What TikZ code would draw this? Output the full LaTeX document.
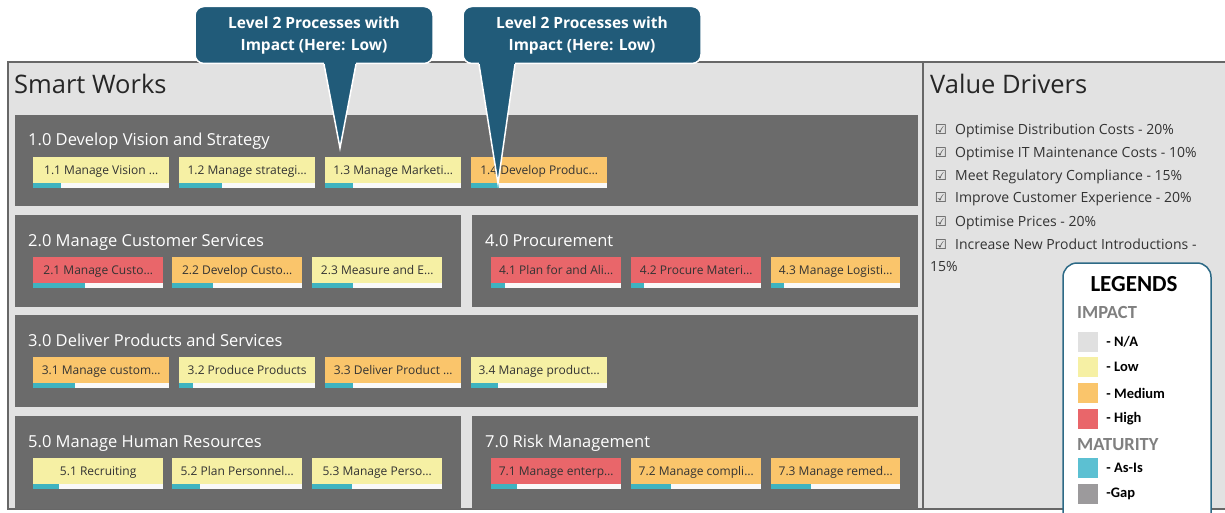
\documentclass[tikz,border=0pt]{standalone}
\usepackage{fontspec}
\setmainfont{Open Sans}
\newfontfamily\symfont{DejaVu Sans}
\newfontfamily\legendfont{Carlito}
\usetikzlibrary{calc,positioning}

\definecolor{panelgray}{HTML}{E2E2E2}
\definecolor{framegray}{HTML}{676767}
\definecolor{groupgray}{HTML}{6B6B6B}
\definecolor{naimp}{HTML}{E0E0E0}
\definecolor{lowimp}{HTML}{F6F0A4}
\definecolor{medimp}{HTML}{FAC56B}
\definecolor{highimp}{HTML}{E9666A}
\definecolor{asisbar}{HTML}{3FB3C0}
\definecolor{asislegend}{HTML}{5CC0D2}
\definecolor{gaplegend}{HTML}{9C9A9C}
\definecolor{calloutblue}{HTML}{215B79}
\definecolor{legendblue}{HTML}{2D6A86}
\definecolor{textgray}{HTML}{333333}

\tikzset{
  frame/.style={fill=panelgray, draw=framegray, line width=1.5pt},
  procbox/.style={anchor=north west, minimum height=26, inner sep=0pt,
    text height=9pt, text depth=0pt,
    text=textgray, font=\fontsize{12}{14}\selectfont},
  stripe/.style={fill=white!95!gray},
  grouptitle/.style={anchor=base west, inner sep=0pt, text=white,
    font=\fontsize{16.5}{19}\selectfont},
  paneltitle/.style={anchor=base west, inner sep=0pt, text=black!85,
    font=\fontsize{25.5}{29}\selectfont},
  tickbox/.style={anchor=base, inner sep=0pt, text=black!70, font=\symfont\fontsize{13.5}{15}\selectfont},
  drivertext/.style={anchor=base west, inner sep=0pt, text=textgray,
    font=\fontsize{14}{16}\selectfont},
  callout/.style={fill=calloutblue, draw=white, line width=1.5pt, rounded corners=9pt,
    text=white, align=center, minimum width=238, minimum height=57, inner sep=0pt,
    font=\bfseries\fontsize{15.5}{22}\selectfont},
  legendframe/.style={fill=white, draw=legendblue, line width=1.5pt, rounded corners=14pt},
  legendhead/.style={anchor=west, inner sep=0pt, text=black!50,
    font=\legendfont\bfseries\fontsize{18.5}{20}\selectfont},
  swatch/.style={minimum size=20, inner sep=0pt},
  legendtext/.style={inner sep=0pt, font=\legendfont\bfseries\fontsize{14.5}{17}\selectfont}
}

\newcommand{\process}[7]{%kwargs name, x0, y0, width, impact, as-is, label
  \node[procbox, minimum width=#4, fill=#5] (#1) at (#2,#3) {#7};
  \fill[stripe] (#1.south west) rectangle ++(#4,5);
  \fill[asisbar] (#1.south west) rectangle ++(#6,5);
}
\newcommand{\processgroup}[6]{%kwargs name, x0, y0, x1, y1, title
  \fill[groupgray] (#2,#3) rectangle (#4,#5);
  \node[grouptitle] (#1) at (#2+13,#3+31) {#6};
}
\newcommand{\driver}[3]{%kwargs name, y, text
  \node[tickbox] (#1box) at (941,#2+5) {☑};
  \node[drivertext] (#1) at (955,#2+5) {#3};
}
\newcommand{\legendentry}[4]{%kwargs name, y, colour, text
  \node[swatch, fill=#3] (#1sw) at (1088,#2) {};
  \node[legendtext, right=8pt of #1sw] (#1) {#4};
}

\begin{document}
\begin{tikzpicture}[x=1pt,y=-1pt]
  \useasboundingbox (0,0) rectangle (1225,513);
  %outer frame with the two panels
  \draw[frame] (8,62) rectangle (1235,509);
  \draw[framegray, line width=1.5pt] (923,62) -- (923,509);
  \node[paneltitle] (smart) at (14,94) {Smart Works};
  \node[paneltitle] (value) at (930,94) {Value Drivers};
  %level 1 groups
  \processgroup{g1}{15}{115}{918}{206}{1.0 Develop Vision and Strategy}
  \processgroup{g2}{15}{215}{461}{307}{2.0 Manage Customer Services}
  \processgroup{g4}{472}{215}{918}{307}{4.0 Procurement}
  \processgroup{g3}{15}{315}{918}{407}{3.0 Deliver Products and Services}
  \processgroup{g5}{15}{416}{461}{509}{5.0 Manage Human Resources}
  \processgroup{g7}{472}{416}{918}{509}{7.0 Risk Management}
  %level 2 processes, row 1
  \process{p11}{33}{157}{136}{lowimp}{28}{1.1 Manage Vision …}
  \process{p12}{179}{157}{136}{lowimp}{43}{1.2 Manage strategi…}
  \process{p13}{325}{157}{136}{lowimp}{28}{1.3 Manage Marketi…}
  \process{p14}{471}{157}{136}{medimp}{28}{1.4 Develop Produc…}
  %row 2
  \process{p21}{33}{257}{130}{highimp}{52}{2.1 Manage Custo…}
  \process{p22}{172}{257}{130}{medimp}{41}{2.2 Develop Custo…}
  \process{p23}{312}{257}{130}{lowimp}{41}{2.3 Measure and E…}
  \process{p41}{491}{257}{130}{highimp}{14}{4.1 Plan for and Ali…}
  \process{p42}{631}{257}{130}{highimp}{13}{4.2 Procure Materi…}
  \process{p43}{771}{257}{129}{medimp}{13}{4.3 Manage Logisti…}
  %row 3
  \process{p31}{33}{357}{136}{medimp}{42}{3.1 Manage custom…}
  \process{p32}{179}{357}{136}{lowimp}{14}{3.2 Produce Products}
  \process{p33}{325}{357}{136}{medimp}{28}{3.3 Deliver Product …}
  \process{p34}{471}{357}{136}{lowimp}{27}{3.4 Manage product…}
  %row 4
  \process{p51}{33}{458}{130}{lowimp}{26}{5.1 Recruiting}
  \process{p52}{172}{458}{130}{lowimp}{28}{5.2 Plan Personnel…}
  \process{p53}{312}{458}{130}{lowimp}{40}{5.3 Manage Perso…}
  \process{p71}{491}{458}{130}{highimp}{26}{7.1 Manage enterp…}
  \process{p72}{631}{458}{130}{medimp}{40}{7.2 Manage compli…}
  \process{p73}{771}{458}{129}{medimp}{40}{7.3 Manage remed…}
  %value drivers
  \driver{d1}{130}{Optimise Distribution Costs - 20\%}
  \driver{d2}{153}{Optimise IT Maintenance Costs - 10\%}
  \driver{d3}{176}{Meet Regulatory Compliance - 15\%}
  \driver{d4}{198}{Improve Customer Experience - 20\%}
  \driver{d5}{221}{Optimise Prices - 20\%}
  \driver{d6}{244}{Increase New Product Introductions -}
  \node[drivertext] (d6b) at (930,271) {15\%};
  %legends
  \draw[legendframe] (1063,263) rectangle (1211,530);
  \node[legendtext, font=\legendfont\bfseries\fontsize{23}{26}\selectfont] (legtitle) at (1134,284) {LEGENDS};
  \node[legendhead] (impact) at (1077,312) {IMPACT};
  \legendentry{na}{342}{naimp}{- N/A}
  \legendentry{low}{367}{lowimp}{- Low}
  \legendentry{medium}{393}{medimp}{- Medium}
  \legendentry{high}{419}{highimp}{- High}
  \node[legendhead] (maturity) at (1077,445) {MATURITY};
  \legendentry{asis}{468}{asislegend}{- As-Is}
  \legendentry{gap}{494}{gaplegend}{-Gap}
  %callouts
  \coordinate (tip1) at ([xshift=15pt,yshift=9pt]p13.north west);
  \coordinate (tip2) at ([xshift=27pt]p14.south west);
  \node[callout] (note1) at (314,35) {Level 2 Processes with\\Impact (Here: Low)};
  \node[callout] (note2) at (582,35) {Level 2 Processes with\\Impact (Here: Low)};
  \fill[calloutblue] ($(tip1 |- note1.south)+(-16,-2)$) -- (tip1) -- ($(tip1 |- note1.south)+(16,-2)$) -- cycle;
  \draw[white, line width=1.5pt] ($(tip1 |- note1.south)+(-16,0)$) -- (tip1) -- ($(tip1 |- note1.south)+(16,0)$);
  \fill[calloutblue] ($(tip2 |- note2.south)+(-19,-2)$) -- (tip2) -- ($(tip2 |- note2.south)+(17,-2)$) -- cycle;
  \draw[white, line width=1.5pt] ($(tip2 |- note2.south)+(-19,0)$) -- (tip2) -- ($(tip2 |- note2.south)+(17,0)$);
\end{tikzpicture}
\end{document}
